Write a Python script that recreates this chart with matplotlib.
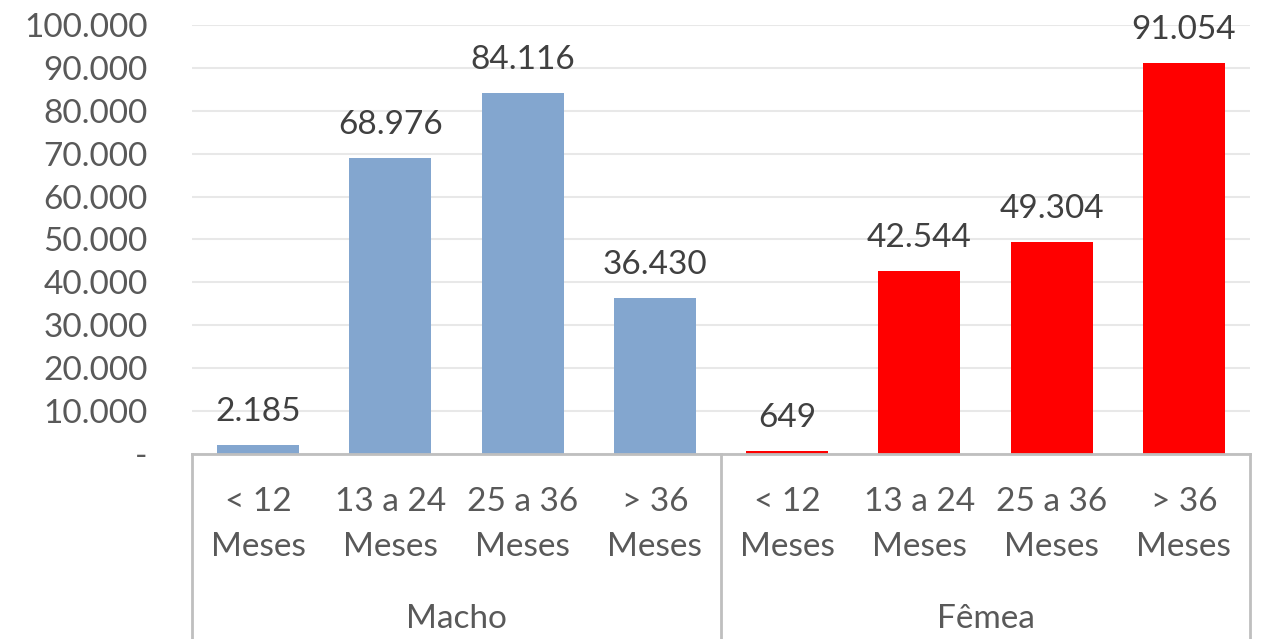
import matplotlib.pyplot as plt
import numpy as np

# Data
groups = ["Macho", "Fêmea"]
faixas = ["< 12\nMeses", "13 a 24\nMeses", "25 a 36\nMeses", "> 36\nMeses"]
macho = [2185, 68976, 84116, 36430]
femea = [649, 42544, 49304, 91054]
yticks = [0, 10000, 20000, 30000, 40000, 50000, 60000, 70000, 80000, 90000, 100000]

plt.rcParams['font.family'] = ['Lato', 'DejaVu Sans']


def fmt(v):
    if v == 0:
        return "-"
    return f"{v:,}".replace(",", ".")


fig = plt.figure(figsize=(12.63, 6.39), dpi=100)
ax = fig.add_axes([192 / 1263, 185 / 639, (1250 - 192) / 1263, 429 / 639])

values = macho + femea
colors = ["#83A6CF"] * 4 + ["#FF0000"] * 4
x = np.arange(len(values))
ax.bar(x, values, width=0.62, color=colors, zorder=2)

# data labels
for xi, v in zip(x, values):
    ax.annotate(fmt(v), (xi, v), xytext=(0, 13), textcoords="offset points",
                ha="center", va="bottom", fontsize=24, color="#404040")

ax.set_xlim(-0.5, 7.5)
ax.set_ylim(0, 100000)
ax.set_yticks(yticks)
ax.set_yticklabels([fmt(v) for v in yticks], fontsize=24, color="#595959")
ax.tick_params(axis="y", length=0, pad=32)
ax.grid(axis="y", color="#E8E8E8", linewidth=1.5, zorder=0)

for s in ["left", "right", "top"]:
    ax.spines[s].set_visible(False)
ax.spines["bottom"].set_color("#BFBFBF")
ax.spines["bottom"].set_linewidth(2)

# category labels
ax.set_xticks(x)
ax.set_xticklabels(faixas * 2, fontsize=24, color="#595959", linespacing=1.62)
ax.tick_params(axis="x", length=0, pad=24)

# group labels and dividers
trans = ax.get_xaxis_transform()
for i, g in enumerate(groups):
    ax.text(i * 4 + 1.5, -0.385, g, transform=trans, ha="center", va="center",
            fontsize=24, color="#595959")
for xd in [-0.5, 3.5, 7.5]:
    ax.plot([xd, xd], [0, -0.45], transform=trans, color="#BFBFBF",
            linewidth=2, clip_on=False)

fig.savefig("out.png", dpi=100)
